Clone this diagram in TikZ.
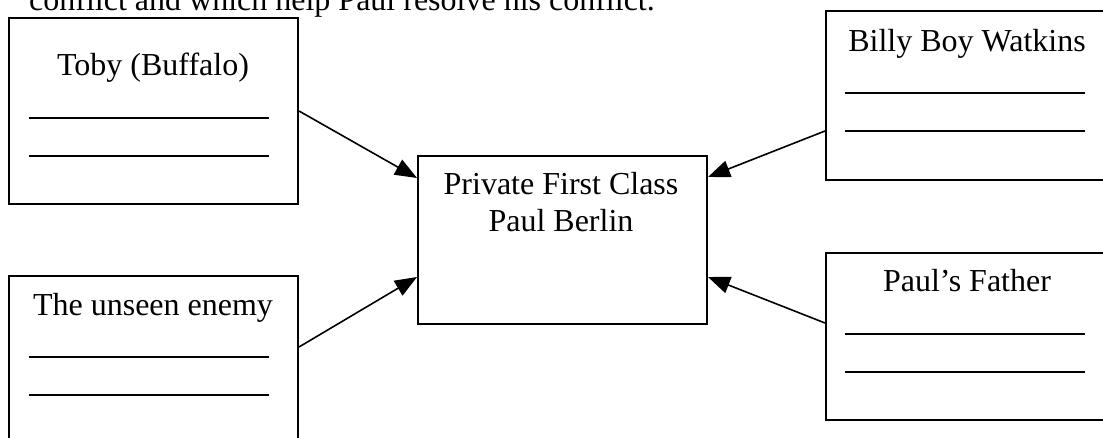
\documentclass[tikz,border=0pt]{standalone}
\usepackage{fontspec}
\setmainfont{Liberation Serif}
\usetikzlibrary{arrows.meta, positioning}

\tikzset{
  card/.style={draw, line width=2pt, minimum width=289pt, inner sep=0pt, anchor=north west},
  blank/.style={line width=1.5pt},
  cardtext/.style={anchor=base, inner sep=0pt}
}

\begin{document}
\begin{tikzpicture}[x=1pt, y=-1pt, >={Triangle[length=22pt,width=17pt]}, font=\fontsize{32}{37}\selectfont]
        \clip (0,0) rectangle (1103,438);
        \node[cardtext, anchor=base west] (intro) at (29,11) {conflict and which help Paul resolve his conflict.};
        % boxes
        \node[card, minimum height=186pt] (toby) at (8,17) {};
        \node[card, minimum height=200pt] (enemy) at (8,275) {};
        \node[card, minimum height=169pt] (billy) at (825,10) {};
        \node[card, minimum height=167pt] (father) at (825,252) {};
        \node[card, minimum height=168pt] (paul) at (417,155) {};
        % labels
        \node[cardtext] (tobyname) at (153,76) {Toby (Buffalo)};
        \node[cardtext] (enemyname) at (153,316) {The unseen enemy};
        \node[cardtext] (billyname) at (967,52) {Billy Boy Watkins};
        \node[cardtext] (fathername) at (967,292) {Paul’s Father};
        \node[cardtext, align=center] (paulname) at (561,232) {Private First Class\\Paul Berlin};
        % blanks
        \foreach \y in {118,156,357,395}
            \draw[blank] (29,\y) -- (269,\y);
        \foreach \y in {93,131,334,372}
            \draw[blank] (845,\y) -- (1085,\y);
        \path[->, line width=1.6pt]
        (toby.east) edge ([yshift=-23pt]paul.north west)
        ([yshift=-72pt]enemy.north east) edge ([yshift=48pt]paul.south west)
        ([yshift=-121pt]billy.north west) edge ([yshift=-22pt]paul.north east)
        ([yshift=-71pt]father.north west) edge ([yshift=48pt]paul.south east)
        ;
    \end{tikzpicture}
\end{document}
